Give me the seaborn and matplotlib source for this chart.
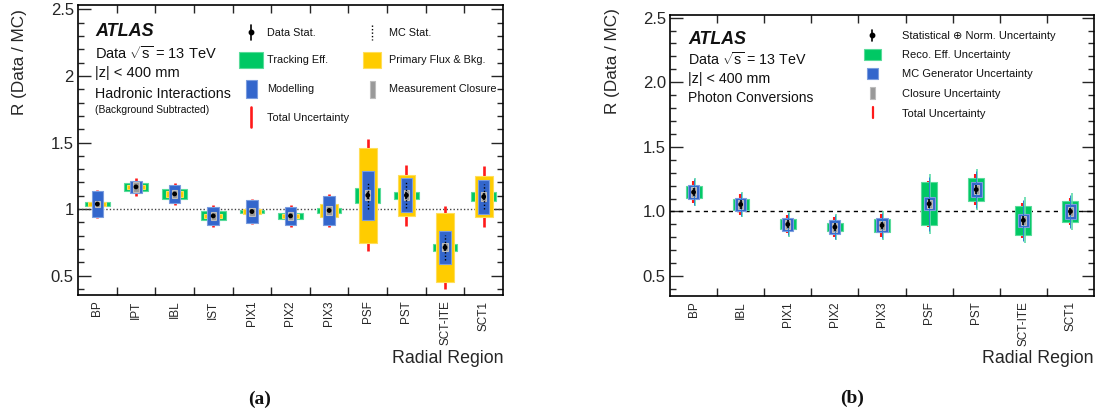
import matplotlib
matplotlib.use("Agg")
import matplotlib.pyplot as plt
import matplotlib.ticker as mticker
from matplotlib.colors import to_rgb
from matplotlib.patches import Rectangle
from matplotlib.lines import Line2D
import seaborn as sns
import numpy as np
import pandas as pd

# ─── Dane: (a) oddziaływania hadronowe ───────────────────────────────
regions_had = ['BP', 'IPT', 'IBL', 'IST', 'PIX1', 'PIX2', 'PIX3', 'PSF', 'PST', 'SCT-ITE', 'SCT1']
ratio_had = [1.038, 1.167, 1.114, 0.949, 0.982, 0.949, 0.990, 1.104, 1.104, 0.712, 1.093]
stat_had = [0.010, 0.012, 0.012, 0.012, 0.012, 0.012, 0.012, 0.025, 0.025, 0.025, 0.025]
mcstat_had = [0.008, 0.008, 0.008, 0.008, 0.008, 0.008, 0.008, 0.100, 0.098, 0.093, 0.093]
trk_had = [0.018, 0.030, 0.037, 0.034, 0.011, 0.024, 0.018, 0.058, 0.028, 0.029, 0.034]
flux_had = [0.012, 0.016, 0.024, 0.016, 0.022, 0.015, 0.050, 0.355, 0.153, 0.260, 0.155]
model_had = [0.098, 0.045, 0.066, 0.067, 0.087, 0.070, 0.108, 0.183, 0.129, 0.125, 0.126]
closure_had = [0.025, 0.036, 0.030, 0.028, 0.030, 0.030, 0.035, 0.037, 0.037, 0.030, 0.035]
total_had = [0.105, 0.068, 0.085, 0.082, 0.094, 0.082, 0.122, 0.420, 0.230, 0.315, 0.228]

# ─── Dane: (b) konwersje fotonów ─────────────────────────────────────
regions_conv = ['BP', 'IBL', 'PIX1', 'PIX2', 'PIX3', 'PSF', 'PST', 'SCT-ITE', 'SCT1']
ratio_conv = [1.149, 1.054, 0.900, 0.879, 0.892, 1.059, 1.169, 0.931, 1.000]
stat_conv = [0.033, 0.032, 0.030, 0.030, 0.030, 0.035, 0.035, 0.035, 0.030]
reco_conv = [0.046, 0.045, 0.038, 0.033, 0.049, 0.165, 0.090, 0.112, 0.079]
gen_conv = [0.055, 0.050, 0.053, 0.051, 0.054, 0.051, 0.055, 0.051, 0.059]
closure_conv = [0.038, 0.035, 0.035, 0.035, 0.035, 0.030, 0.035, 0.035, 0.035]
total_conv = [0.085, 0.081, 0.070, 0.080, 0.086, 0.180, 0.120, 0.135, 0.103]
outer_conv = [0.110, 0.100, 0.095, 0.100, 0.110, 0.230, 0.158, 0.177, 0.142]

GREEN = '#00c864'
YELLOW = '#ffcc00'
BLUE = '#3366cc'
GRAY = '#999999'
RED = '#ff1a1a'
TEAL = '#5fdcaa'

# ─── Styl ────────────────────────────────────────────────────────────
sns.set_theme(style='ticks')
plt.rcParams.update({
    'axes.linewidth': 1.2,
    'mathtext.fontset': 'custom',
    'mathtext.rm': 'Liberation Sans',
    'mathtext.it': 'Liberation Sans:italic',
    'text.color': '#111111',
})
plt.rcParams['font.family'] = ['Liberation Sans', 'DejaVu Sans']

W, H = 1102, 416
fig = plt.figure(figsize=(W / 100, H / 100), dpi=100)


def fx(x):
    return x / W


def fy(y):
    return 1 - y / H


def lighter(c, f=0.35):
    r, g, b = to_rgb(c)
    return (r + (1 - r) * f, g + (1 - g) * f, b + (1 - b) * f)


def boxes(ax, pos, centre, err, width, color, z):
    centre, err = np.asarray(centre), np.asarray(err)
    ax.bar(pos, 2 * err, bottom=centre - err, width=width, color=color,
           edgecolor=lighter(color), linewidth=0.8, zorder=z)


def bars(ax, pos, centre, err, color, lw, z, ls='-'):
    centre, err = np.asarray(centre), np.asarray(err)
    ax.vlines(pos, centre - err, centre + err, colors=color, linewidth=lw,
              linestyles=ls, zorder=z)


def style_axis(ax, labels, ylim, fmt):
    n = len(labels)
    ax.set_xlim(-0.5, n - 0.5)
    ax.set_ylim(*ylim)
    ax.set_xticks(np.arange(n))
    ax.set_xticklabels(labels, rotation=90, fontsize=8.5)
    ax.set_xticks(np.arange(n - 1) + 0.5, minor=True)
    ax.tick_params(axis='x', which='major', length=0, pad=4)
    ax.tick_params(axis='x', which='minor', direction='in', length=6,
                   width=1, top=True, bottom=True)
    ax.yaxis.set_major_locator(mticker.MultipleLocator(0.5))
    ax.yaxis.set_minor_locator(mticker.MultipleLocator(0.1))
    ax.yaxis.set_major_formatter(mticker.FuncFormatter(fmt))
    ax.tick_params(axis='y', which='major', direction='in', length=9, width=1,
                   left=True, right=True, labelsize=12, pad=3)
    ax.tick_params(axis='y', which='minor', direction='in', length=4.5,
                   width=1, left=True, right=True)
    for s in ax.spines.values():
        s.set_visible(True)
        s.set_linewidth(1.2)
        s.set_color('black')
    ax.set_ylabel('R (Data / MC)', fontsize=12.3)
    ax.set_xlabel('Radial Region', fontsize=12.8, loc='right')


def points(ax, pos, ratio, stat):
    bars(ax, pos, ratio, stat, 'black', 1.2, 8)
    df = pd.DataFrame({'pos': pos, 'ratio': ratio})
    sns.scatterplot(data=df, x='pos', y='ratio', color='black', s=12,
                    edgecolor='none', zorder=9, ax=ax, legend=False)


def swatch(x0, x1, y0, y1, color):
    fig.add_artist(Rectangle((fx(x0), fy(y1)), fx(x1) - fx(x0), (y1 - y0) / H,
                             transform=fig.transFigure, facecolor=color,
                             edgecolor=lighter(color), linewidth=0.8))


def vline(x, y0, y1, color, lw, ls='-'):
    fig.add_artist(Line2D([fx(x), fx(x)], [fy(y0), fy(y1)], transform=fig.transFigure,
                          color=color, linewidth=lw, linestyle=ls))


def dot(x, y):
    fig.add_artist(Line2D([fx(x)], [fy(y)], transform=fig.transFigure, marker='o',
                          markersize=3.2, color='black', linestyle='none'))


# ─── (a) Hadronic Interactions ───────────────────────────────────────
axL = fig.add_axes([fx(78), fy(295), 425 / W, 290.3 / H])
pos = np.arange(len(regions_had))
bars(axL, pos, ratio_had, total_had, RED, 1.9, 2)
boxes(axL, pos, ratio_had, trk_had, 0.64, GREEN, 3)
boxes(axL, pos, ratio_had, flux_had, 0.46, YELLOW, 4)
boxes(axL, pos, ratio_had, model_had, 0.30, BLUE, 5)
boxes(axL, pos, ratio_had, closure_had, 0.14, GRAY, 6)
bars(axL, pos, ratio_had, mcstat_had, 'black', 1.0, 7, ls=(0, (1, 1.5)))
points(axL, pos, ratio_had, stat_had)
axL.axhline(1.0, color='#444444', linewidth=1.0, linestyle=(0, (1, 1.5)), zorder=1)
style_axis(axL, regions_had, (0.355, 2.535), lambda v, p: f'{v:g}')
axL.yaxis.set_label_coords(-0.119, 0.801)
axL.xaxis.set_label_coords(1.0, (295 - 363.3) / 290.3)
axL.xaxis.label.set_va('baseline')

fig.text(fx(95), fy(36), 'ATLAS', fontsize=13, fontweight='bold', fontstyle='italic')
fig.text(fx(95), fy(59.3), r'Data $\sqrt{\mathrm{s}}$ = 13 TeV', fontsize=10.5)
fig.text(fx(95), fy(76.5), '|z| < 400 mm', fontsize=10.5)
fig.text(fx(95), fy(97.7), 'Hadronic Interactions', fontsize=10.3)
fig.text(fx(95), fy(112.7), '(Background Subtracted)', fontsize=7.4)

# legenda (a)
vline(250.7, 25, 40, 'black', 1.2)
dot(250.7, 31.7)
fig.text(fx(267), fy(35.6), 'Data Stat.', fontsize=7.8)
vline(372, 25, 40, 'black', 1.0, ls=(0, (1, 1.5)))
fig.text(fx(389), fy(35.6), 'MC Stat.', fontsize=7.8)
swatch(239, 263, 52, 68, GREEN)
fig.text(fx(267), fy(63.2), 'Tracking Eff.', fontsize=7.8)
swatch(363, 381, 52, 68, YELLOW)
fig.text(fx(389), fy(63.2), 'Primary Flux & Bkg.', fontsize=7.8)
swatch(246, 257, 80, 98, BLUE)
fig.text(fx(267), fy(92.2), 'Modelling', fontsize=7.8)
swatch(370, 375, 81, 98, GRAY)
fig.text(fx(389), fy(92.2), 'Measurement Closure', fontsize=7.8)
vline(251, 107, 127, RED, 1.9)
fig.text(fx(267), fy(120.6), 'Total Uncertainty', fontsize=7.8)

fig.text(fx(260), fy(399), '(a)', fontsize=14, fontweight='bold',
         family='Liberation Serif', ha='center', va='center')

# ─── (b) Photon Conversions ──────────────────────────────────────────
axR = fig.add_axes([fx(670), fy(295.7), 424 / W, 280.7 / H])
pos = np.arange(len(regions_conv))
bars(axR, pos - 0.02, ratio_conv, total_conv, RED, 1.5, 2)
boxes(axR, pos, ratio_conv, reco_conv, 0.34, GREEN, 3)
bars(axR, pos + 0.025, ratio_conv, outer_conv, TEAL, 1.2, 4)
boxes(axR, pos, ratio_conv, gen_conv, 0.235, BLUE, 5)
boxes(axR, pos, ratio_conv, closure_conv, 0.11, GRAY, 6)
bars(axR, pos, ratio_conv, np.asarray(outer_conv) * 0.9, '#2f7fd0', 0.7, 7)
points(axR, pos, ratio_conv, stat_conv)
axR.axhline(1.0, color='black', linewidth=1.0, linestyle=(0, (3, 3)), zorder=1)
style_axis(axR, regions_conv, (0.348, 2.52), lambda v, p: f'{v:.1f}')
axR.yaxis.set_label_coords(-0.119, 0.836)
axR.xaxis.set_label_coords(1.0, (295.7 - 363.3) / 280.7)
axR.xaxis.label.set_va('baseline')

fig.text(fx(688), fy(44), 'ATLAS', fontsize=12.8, fontweight='bold', fontstyle='italic')
fig.text(fx(688), fy(65), r'Data $\sqrt{\mathrm{s}}$ = 13 TeV', fontsize=10.3)
fig.text(fx(688), fy(82.7), '|z| < 400 mm', fontsize=10.3)
fig.text(fx(688), fy(102.3), 'Photon Conversions', fontsize=10)

# legenda (b)
vline(872, 30, 40.5, 'black', 1.2)
dot(872, 35)
fig.text(fx(901.7), fy(39), 'Statistical \u2295 Norm. Uncertainty', fontsize=8)
swatch(864, 881, 49, 60, GREEN)
fig.text(fx(901.7), fy(58.3), 'Reco. Eff. Uncertainty', fontsize=8)
swatch(867, 878, 68, 79, BLUE)
fig.text(fx(901.7), fy(77.3), 'MC Generator Uncertainty', fontsize=8)
swatch(870, 875, 87, 99, GRAY)
fig.text(fx(901.7), fy(96.7), 'Closure Uncertainty', fontsize=8)
vline(872.5, 107, 118, RED, 1.6)
fig.text(fx(901.7), fy(116.7), 'Total Uncertainty', fontsize=8)

fig.text(fx(852.5), fy(398), '(b)', fontsize=14, fontweight='bold',
         family='Liberation Serif', ha='center', va='center')

fig.savefig('out.png', dpi=100)
